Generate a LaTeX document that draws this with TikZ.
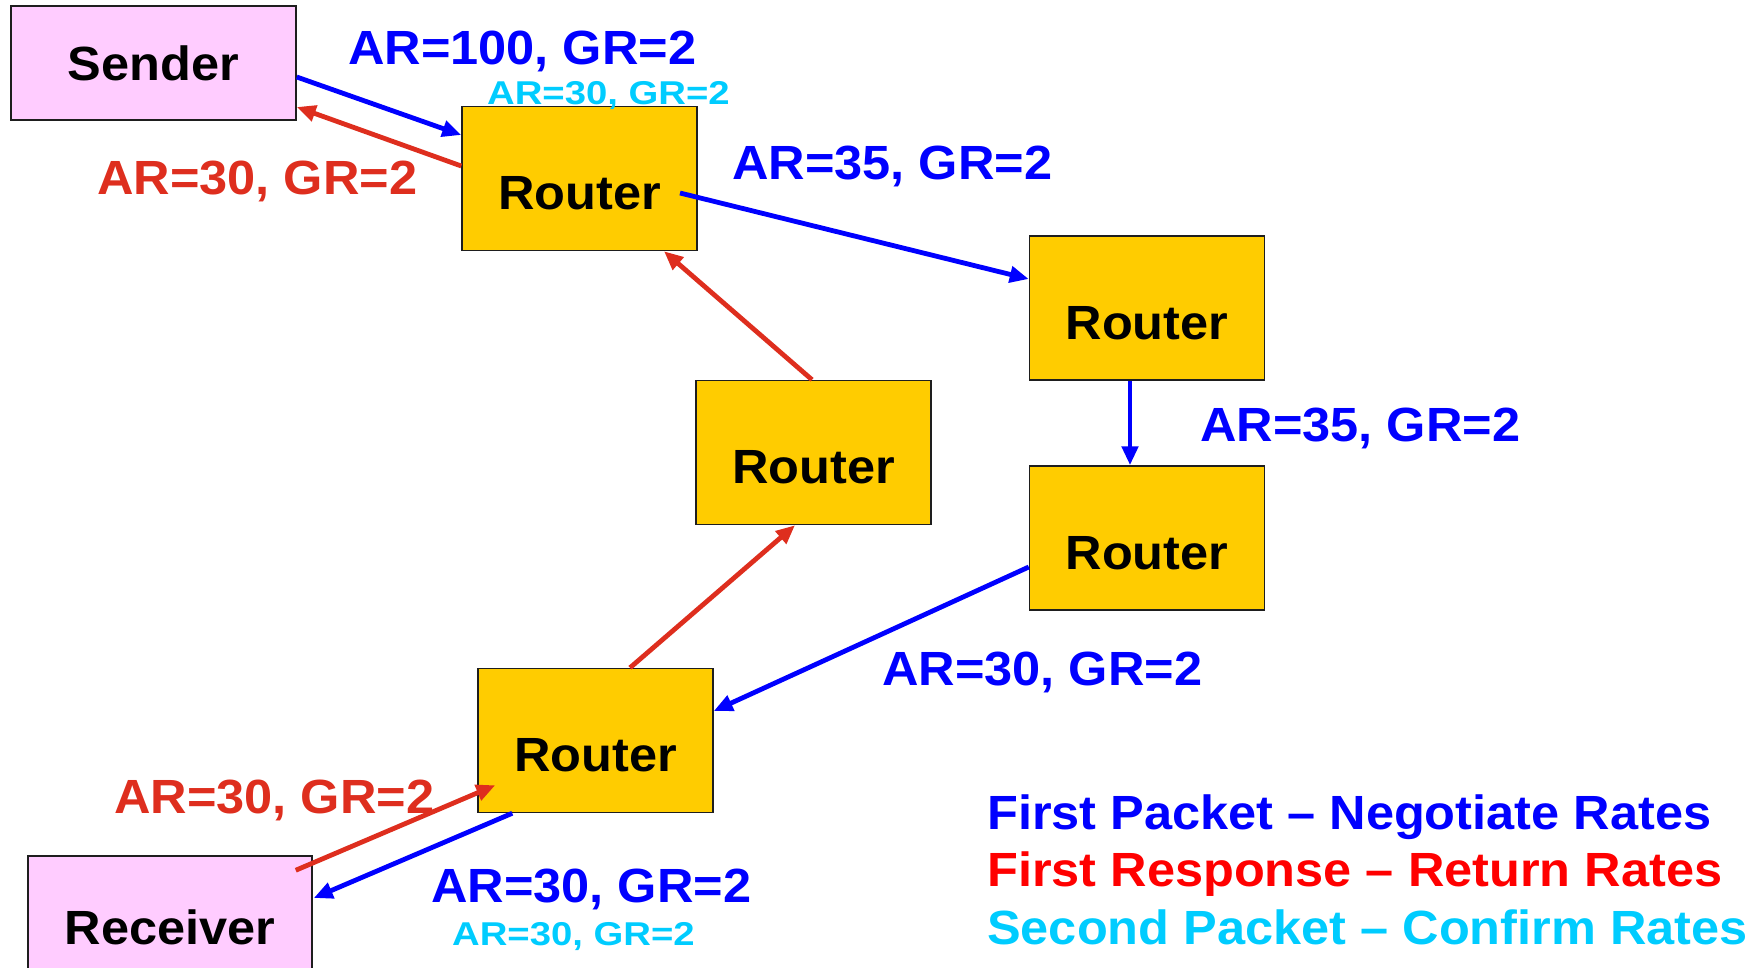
\documentclass[tikz,border=0pt]{standalone}
\usepackage{fontspec}
\setmainfont{Liberation Sans}[FakeStretch=1.052]
\newfontfamily\smallfont{Liberation Sans}[FakeStretch=1.16]
\usetikzlibrary{arrows.meta}
\definecolor{pblue}{RGB}{0,0,255}
\definecolor{pred}{RGB}{222,46,30}
\definecolor{lred}{RGB}{255,0,0}
\definecolor{pcyan}{RGB}{0,204,255}
\definecolor{rfill}{RGB}{255,204,0}
\definecolor{pfill}{RGB}{255,204,255}
\definecolor{bord}{RGB}{30,30,30}
\tikzset{
  big/.style={font=\fontsize{48}{56}\selectfont\bfseries},
  router/.style={draw=bord, line width=1.5pt, fill=rfill, minimum width=235pt, minimum height=144pt, inner sep=0pt, big, text height=62pt, text depth=0pt},
  host/.style={draw=bord, line width=1.5pt, fill=pfill, minimum width=285pt, minimum height=114pt, inner sep=0pt, big},
  lbl/.style={anchor=base west, inner sep=0pt, big},
  slbl/.style={anchor=base west, inner sep=0pt, font=\smallfont\fontsize{33}{38}\selectfont\bfseries, text=pcyan},
  conn/.style={line width=4.8pt, -{Triangle[length=19pt,width=16pt]}},
  bconn/.style={conn, draw=pblue, fill=pblue},
  rconn/.style={conn, draw=pred, fill=pred}
}
\begin{document}
\begin{tikzpicture}[x=1pt, y=-1pt]
\useasboundingbox (0,0) rectangle (1763,968);
\clip (0,0) rectangle (1763,968);
% nodes
\node[host] (sender) at (153.5,63) {Sender};
\node[host, minimum width=284pt, minimum height=115pt, text height=62pt, text depth=0pt] (receiver) at (170,913.5) {Receiver};
\node[router] (r1) at (579.5,178.5) {Router};
\node[router] (r2) at (1147,308) {Router};
\node[router] (r3) at (813.5,452.5) {Router};
\node[router] (r4) at (1147,538) {Router};
\node[router] (r5) at (595.5,740.5) {Router};
% connectors
\draw[bconn] ([yshift=-14pt]sender.east) -- ([yshift=43.5pt]r1.west);
\draw[rconn] ([yshift=12.5pt]r1.west) -- ([yshift=-44pt]sender.east);
\draw[bconn] ([xshift=100.5pt,yshift=-14.5pt]r1.center) -- ([yshift=29pt]r2.west);
\draw[bconn] ([xshift=-17pt]r2.south) -- ([xshift=-17pt]r4.north);
\draw[bconn] ([yshift=-29pt]r4.west) -- ([yshift=29.5pt]r5.east);
\draw[rconn] ([xshift=34.5pt]r5.north) -- ([xshift=-18.5pt]r3.south);
\draw[rconn] ([xshift=-1.5pt]r3.north) -- ([xshift=84.5pt]r1.south);
\draw[rconn] ([xshift=-17pt,yshift=-15pt]receiver.north east) -- ([xshift=18pt,yshift=28pt]r5.south west);
\draw[bconn] ([xshift=35pt]r5.south west) -- ([xshift=1pt,yshift=15.5pt]receiver.east);
% labels
\node[lbl, text=pblue] (l1) at (348,65) {AR=100, GR=2};
\node[slbl] (l2) at (487,105) {AR=30, GR=2};
\node[lbl, text=pred] (l3) at (97,195) {AR=30, GR=2};
\node[lbl, text=pblue] (l4) at (732,180) {AR=35, GR=2};
\node[lbl, text=pblue] (l5) at (1200,441) {AR=35, GR=2};
\node[lbl, text=pblue] (l6) at (882,685) {AR=30, GR=2};
\node[lbl, text=pred] (l7) at (114,813) {AR=30, GR=2};
\node[lbl, text=pblue] (l8) at (431,902) {AR=30, GR=2};
\node[slbl] (l9) at (452,945) {AR=30, GR=2};
% legend
\node[lbl, text=pblue] (leg1) at (987,829) {First Packet – Negotiate Rates};
\node[lbl, text=lred] (leg2) at (987,886) {First Response – Return Rates};
\node[lbl, text=pcyan] (leg3) at (987,944) {Second Packet – Confirm Rates};
\end{tikzpicture}
\end{document}
